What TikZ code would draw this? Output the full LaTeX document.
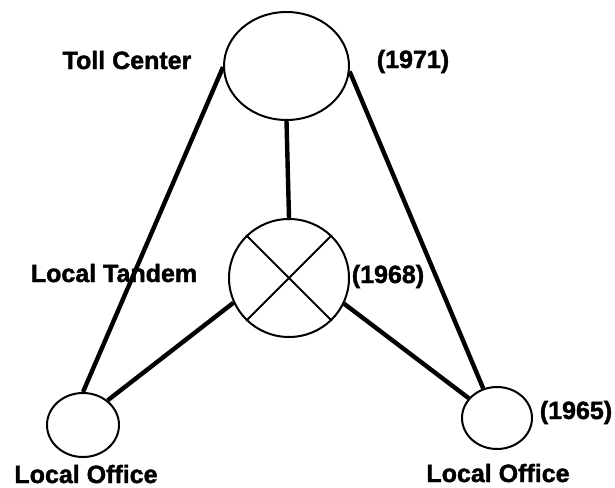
\documentclass[tikz,border=0pt]{standalone}
\usepackage{fontspec}
\setmainfont{Liberation Sans}
\newfontfamily\heavyfont[FakeBold=1.6]{Liberation Sans Bold}
\usetikzlibrary{shapes.geometric}
\begin{document}
\begin{tikzpicture}[x=1pt,y=-1pt,
  office/.style={draw, ellipse, line width=2pt, inner sep=0pt},
  trunk/.style={line width=4.4pt},
  cross/.style={line width=2pt},
  lbl/.style={inner sep=0pt, anchor=base, font=\fontsize{25}{30}\heavyfont}]
\useasboundingbox (0,0) rectangle (615,487);

% switching offices
\node[office, minimum width=125pt, minimum height=108pt] (toll) at (286.5,66) {};
\node[office, minimum width=120pt, minimum height=118pt] (tandem) at (289,278) {};
\node[office, minimum width=72pt, minimum height=64pt] (lo1) at (83,425) {};
\node[office, minimum width=70pt, minimum height=62pt] (lo2) at (497,418) {};

% tandem switch symbol
\draw[cross] (tandem.45) -- (tandem.225);
\draw[cross] (tandem.135) -- (tandem.-45);

% trunk groups
\draw[trunk] (toll.south) -- (tandem.north);
\draw[trunk] (toll.181) -- (lo1.90);
\draw[trunk] (toll.-5) -- (lo2.115);
\draw[trunk] (tandem.204) -- (lo1.45);
\draw[trunk] (tandem.-25) -- (lo2.145);

% labels
\node[lbl] (tcl) at (127,69) {Toll Center};
\node[lbl] (tcy) at (413,68) {(1971)};
\node[lbl] (ltl) at (114,282) {Local Tandem};
\node[lbl] (lty) at (388,283) {(1968)};
\node[lbl] (lo1l) at (86,483) {Local Office};
\node[lbl] (lo2y) at (576,419) {(1965)};
\node[lbl] (lo2l) at (498,482) {Local Office};
\end{tikzpicture}
\end{document}
